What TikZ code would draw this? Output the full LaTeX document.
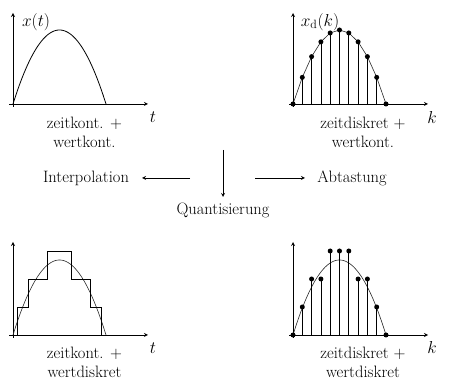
\documentclass[tikz,border=0pt]{standalone}
\usepackage{tikz}
\usetikzlibrary{positioning}
\usetikzlibrary{calc}

\begin{document}
\begin{tikzpicture} [x=1pt,y=1pt,
            axis/.style={->,thick},
            curve/.style={thick},
            fine/.style={semithick,black!85},
            stem/.style={thick},
            dot/.style={circle,fill=black,inner sep=0pt,minimum size=5pt},
            >=stealth,
         every node/.append style={align=center,font=\fontsize{16.5}{19}\selectfont}]
\useasboundingbox (0,0) rectangle (452,385);

%P1 zeitkontinuierlich, wertkontinuierlich
\begin{scope}[shift={(13,281)}]
\draw [axis] (-4,0) -- (135,0);
\draw [axis] (0,-3) -- (0,91);
\draw [curve] plot[domain=0:93,samples=60] (\x,{74*(1-((\x-46.5)/46.5)^2)});
\end{scope}
\node (xt) at (36,363) {$x(t)$};
\node (t1) at (153,268) {$t$};
\node (p1) at (84.5,252.5) {zeitkont. +\\wertkont.};

%P2 zeitdiskret, wertkontinuierlich
\begin{scope}[shift={(293,281)}]
\draw [axis] (-4,0) -- (135,0);
\draw [axis] (0,-3) -- (0,91);
\draw [fine] plot[domain=0:10,samples=11] ({9.3*\x},{74*(1-((\x-5)/5)^2)});
\foreach \k in {0,...,10} {
   \pgfmathsetmacro{\h}{74*(1-((\k-5)/5)^2)}
   \draw [stem] (9.3*\k,0) -- (9.3*\k,\h);
   \node [dot] (a\k) at (9.3*\k,\h) {};
}
\end{scope}
\node (xdk) at (320,363) {$x_{\mathrm{d}}(k)$};
\node (k1) at (432,267) {$k$};
\node (p2) at (363,252.5) {zeitdiskret +\\wertkont.};

%arrows in the middle
\coordinate (mid) at (223,207);
\coordinate (down0) at (223,235);
\coordinate (down1) at (223,188);
\coordinate (left0) at (190,207);
\coordinate (left1) at (142,207);
\coordinate (right0) at (255,207);
\coordinate (right1) at (305,207);
\node (interp) at (86,207) {Interpolation};
\node (abtast) at (352,207) {Abtastung};
\node (quant) at (223,175) {Quantisierung};
\draw [->,thick] (down0) -- (down1);
\draw [->,thick] (left0) -- (left1);
\draw [->,thick] (right0) -- (right1);

%P3 zeitkontinuierlich, wertdiskret
\begin{scope}[shift={(13,50)}]
\draw [axis] (-4,0) -- (135,0);
\draw [axis] (0,-3) -- (0,93);
\draw [fine] plot[domain=0:93,samples=60] (\x,{75*(1-((\x-46.5)/46.5)^2)});
\draw [curve] (4.6,0) -- (4.6,28) -- (15.7,28) -- (15.7,56) -- (34.5,56)
   -- (34.5,84) -- (58.5,84) -- (58.5,56) -- (77.3,56) -- (77.3,28)
   -- (88.4,28) -- (88.4,0);
\end{scope}
\node (t2) at (153,37) {$t$};
\node (p3) at (84.5,22.5) {zeitkont. +\\wertdiskret};

%P4 zeitdiskret, wertdiskret
\begin{scope}[shift={(293,50)}]
\draw [axis] (-4,0) -- (135,0);
\draw [axis] (0,-3) -- (0,93);
\draw [fine] plot[domain=0:93,samples=60] (\x,{75*(1-((\x-46.5)/46.5)^2)});
\foreach \k in {0,...,10} {
   \pgfmathsetmacro{\q}{28*round(75*(1-((\k-5)/5)^2)/28)}
   \draw [stem] (9.3*\k,0) -- (9.3*\k,\q);
   \node [dot] (b\k) at (9.3*\k,\q) {};
}
\end{scope}
\node (k2) at (432,37) {$k$};
\node (p4) at (363,22.5) {zeitdiskret +\\wertdiskret};

\end{tikzpicture}
\end{document}
